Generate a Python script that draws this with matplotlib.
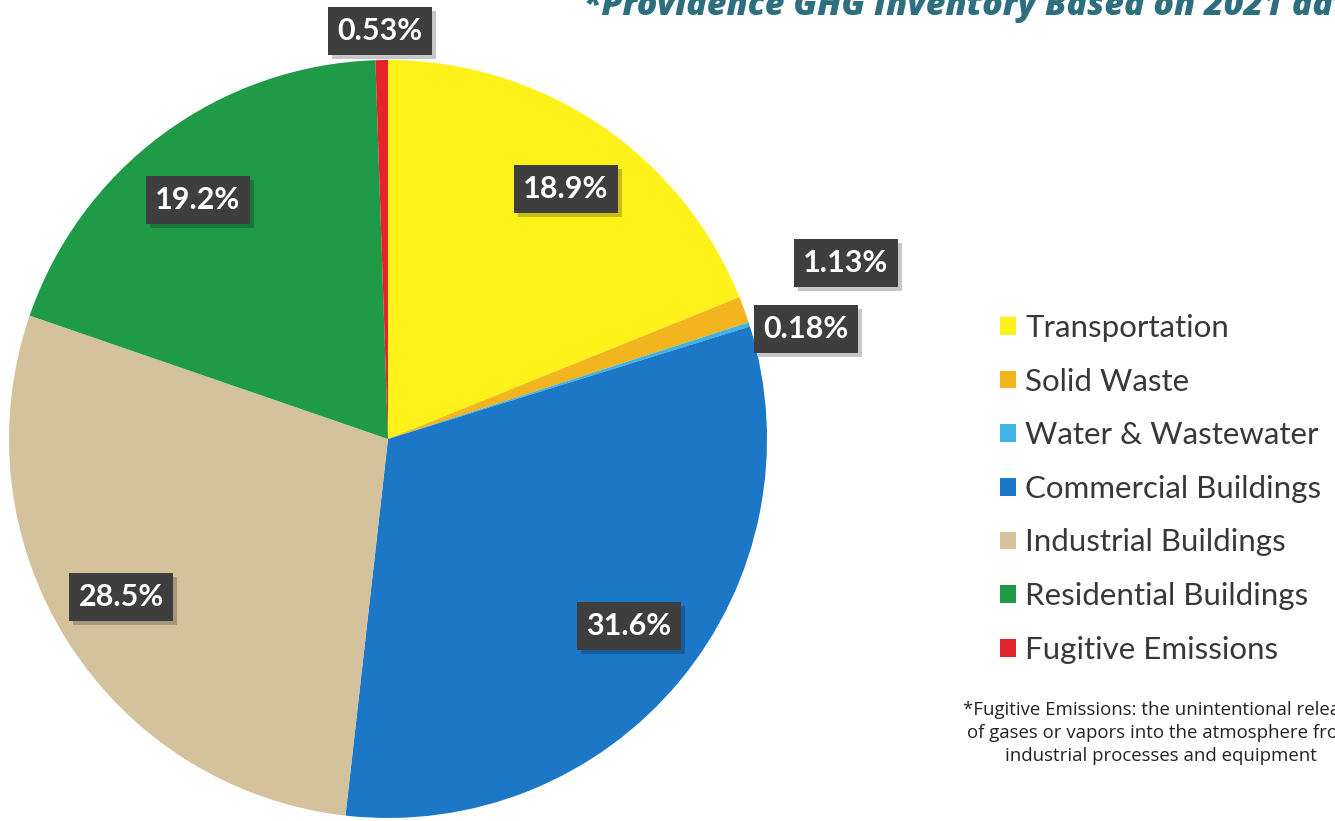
import matplotlib.pyplot as plt
from matplotlib.patches import Patch

# GHG inventory shares (%), clockwise from 12 o'clock
sectors = ["Transportation", "Solid Waste", "Water & Wastewater",
           "Commercial Buildings", "Industrial Buildings",
           "Residential Buildings", "Fugitive Emissions"]
shares = [18.9, 1.13, 0.18, 31.6, 28.5, 19.2, 0.53]
labels = ["18.9%", "1.13%", "0.18%", "31.6%", "28.5%", "19.2%", "0.53%"]
colors = ["#FFF21A", "#F2B51E", "#3FB3E3", "#1C77C6",
          "#D4C29C", "#1F9A47", "#E3242B"]

# label box positions (pixels, image coords) - placed by hand like the original
label_pos = [(566, 189), (846, 263), (806, 329), (629, 626),
             (121, 597), (198, 200), (380, 31)]

W, H = 1335, 821
fig = plt.figure(figsize=(W / 100, H / 100), dpi=100)
ax = fig.add_axes([0, 0, 1, 1])

ax.pie(shares, colors=colors, startangle=90, counterclock=False,
       center=(388, H - 439), radius=379,
       wedgeprops=dict(linewidth=0))
ax.set_xlim(0, W)
ax.set_ylim(0, H)
ax.set_aspect('equal')
ax.axis('off')

for lab, (px, py) in zip(labels, label_pos):
    # drop shadow
    ax.text(px + 4, H - py - 4, lab, ha='center', va='center', fontsize=22,
            family='Lato', weight='bold', color='none',
            bbox=dict(boxstyle='square,pad=0.32', fc='black', ec='none', alpha=0.22))
    ax.text(px, H - py, lab, ha='center', va='center', fontsize=22,
            family='Lato', weight='bold', color='white',
            bbox=dict(boxstyle='square,pad=0.32', fc='#3E3E3E', ec='none'))

handles = [Patch(facecolor=c, edgecolor='none') for c in colors]
leg = ax.legend(handles, sectors, loc='upper left',
                bbox_to_anchor=(1000 / W, 1 - 314 / H), frameon=False,
                prop=dict(family='Lato', size=22.5), labelcolor='#383838',
                handlelength=0.5, handleheight=0.5, handletextpad=0.3,
                labelspacing=0.82, borderpad=0, borderaxespad=0)

# title, cut off at the top right as in the original
ax.text(583, H - 15, "*Providence GHG Inventory Based on 2021 data",
        fontsize=24.5, family='Open Sans', weight='heavy', style='italic',
        color='#2D6F7F', va='baseline', ha='left', clip_on=False)

ax.text(1161, H - 733, "*Fugitive Emissions: the unintentional release\n"
        "of gases or vapors into the atmosphere from\n"
        "industrial processes and equipment",
        fontsize=13.4, family='Open Sans', color='#222222',
        ha='center', va='center', linespacing=1.33)

fig.savefig("out.png", dpi=100)
